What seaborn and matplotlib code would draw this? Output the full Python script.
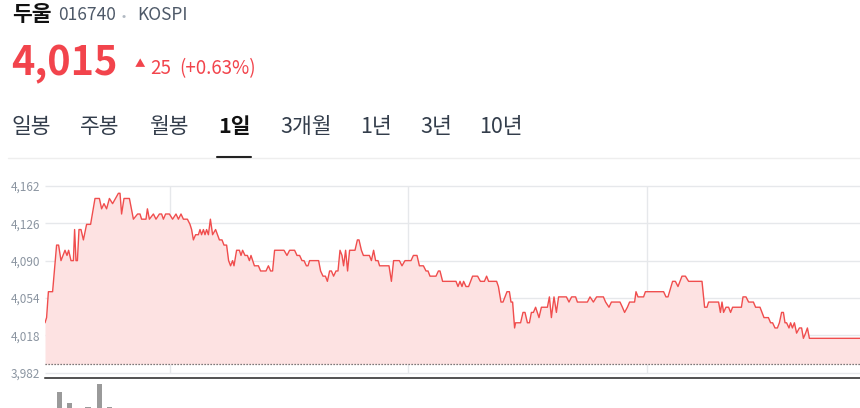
import matplotlib
matplotlib.use('Agg')
import matplotlib.pyplot as plt
from matplotlib.lines import Line2D
import seaborn as sns
import pandas as pd

# 분 단위 (09:00 기준 근사) / 체결가
minutes = [
    0, 0.8, 1.7, 3.8, 5.8, 6.8, 8, 10, 11, 11.8,
    13, 14.2, 14.8, 15.5, 16.2, 17, 18, 19.2, 20.8, 22.8,
    25, 27.2, 28.3, 29.5, 30.8, 32.2, 33.8, 36.7, 37.5, 38.3,
    39.5, 42.2, 44.2, 46.3, 47.5, 48.3, 50.5, 51.2, 52.2, 54.2,
    55.5, 57.2, 58.3, 59.2, 60.3, 62.2, 63.8, 65.5, 66.7, 68,
    69.2, 71.2, 72.5, 73.3, 74.2, 75.3, 76.7, 77.5, 78.3, 79.2,
    80, 80.8, 81.7, 82.7, 83.8, 85.3, 87.2, 88.5, 89.5, 90.8,
    91.8, 92.8, 93.8, 94.5, 95.8, 97.2, 98, 98.8, 100, 101.2,
    102.2, 103, 104.7, 106.7, 107.8, 110.5, 111.7, 112.8, 113.8, 114.8,
    119.5, 121, 122.3, 124.8, 126, 127.3, 128.5, 129.5, 130.7, 131.5,
    132.3, 136.8, 137.8, 139, 140.2, 141.2, 142.3, 143.2, 144.3, 145.5,
    146.5, 147.5, 148.5, 149.3, 150.3, 151.3, 152.3, 155, 156.2, 157,
    158.2, 159.2, 162.2, 163.2, 164.3, 165.3, 166.5, 167.3, 172, 173.2,
    174.3, 177.2, 178.5, 180, 183, 184.2, 186, 187.2, 189.2, 190.5,
    191.5, 192.5, 195.5, 196.7, 197.5, 198.8, 205.5, 206.5, 207.5, 208.5,
    209.3, 210.5, 211.8, 213.8, 216.3, 217.7, 219.7, 220.8, 221.8, 225.8,
    226.7, 228, 229, 231, 232.2, 233, 233.8, 234.8, 235.3, 237.8,
    239, 240, 241.2, 242.2, 243.2, 244.2, 245.3, 247, 248.2, 251.2,
    252.2, 253.2, 254.5, 255.7, 256.8, 260.7, 262, 263.3, 265.3, 266.2,
    271.2, 272.5, 274.2, 275.8, 279.2, 280.3, 282, 283.2, 287.5, 288.7,
    289.8, 291.2, 292.3, 294.8, 295.5, 296.5, 299.3, 300.2, 309.3, 310.5,
    311.5, 313.8, 315.2, 316.5, 318.5, 320.2, 321.8, 328.5, 329.8, 331,
    331.8, 336.8, 337.7, 338.5, 339.3, 340.5, 341.8, 342.8, 343.8, 348.2,
    349, 350.5, 351.8, 354.2, 355.3, 357.5, 359.5, 361.7, 362.8, 363.8,
    365, 366.2, 367.2, 368.3, 369.2, 370, 370.8, 372, 372.8, 373.7,
    374.7, 375.8, 377.2, 378.3, 379.2, 380.3, 381.2, 382.2, 407.5,
]
prices = [
    4030, 4035, 4060, 4060, 4105, 4105, 4090, 4100, 4095, 4100,
    4090, 4090, 4120, 4090, 4090, 4120, 4120, 4110, 4125, 4125,
    4150, 4150, 4140, 4145, 4140, 4150, 4145, 4155, 4155, 4135,
    4150, 4150, 4130, 4135, 4135, 4130, 4130, 4140, 4130, 4135,
    4130, 4135, 4135, 4130, 4135, 4135, 4130, 4135, 4130, 4135,
    4130, 4130, 4125, 4120, 4110, 4115, 4115, 4120, 4115, 4120,
    4115, 4120, 4115, 4130, 4115, 4120, 4110, 4110, 4105, 4105,
    4090, 4085, 4090, 4085, 4100, 4100, 4095, 4100, 4095, 4095,
    4090, 4095, 4085, 4085, 4080, 4080, 4085, 4080, 4080, 4100,
    4100, 4095, 4100, 4100, 4095, 4095, 4090, 4090, 4085, 4085,
    4090, 4090, 4080, 4075, 4075, 4070, 4080, 4080, 4075, 4080,
    4080, 4100, 4095, 4085, 4100, 4080, 4100, 4100, 4110, 4110,
    4100, 4095, 4095, 4090, 4100, 4090, 4090, 4085, 4085, 4070,
    4090, 4090, 4085, 4090, 4090, 4095, 4095, 4085, 4085, 4080,
    4080, 4075, 4075, 4080, 4080, 4070, 4070, 4065, 4070, 4065,
    4070, 4065, 4065, 4075, 4075, 4070, 4070, 4075, 4070, 4070,
    4065, 4050, 4050, 4060, 4060, 4050, 4050, 4025, 4030, 4030,
    4040, 4040, 4030, 4030, 4040, 4040, 4045, 4035, 4045, 4045,
    4055, 4035, 4055, 4040, 4055, 4055, 4050, 4055, 4055, 4050,
    4050, 4055, 4050, 4055, 4055, 4050, 4045, 4050, 4050, 4045,
    4040, 4045, 4050, 4050, 4060, 4055, 4055, 4060, 4060, 4055,
    4055, 4070, 4070, 4065, 4075, 4075, 4070, 4070, 4045, 4045,
    4050, 4050, 4040, 4050, 4040, 4045, 4045, 4040, 4045, 4045,
    4055, 4055, 4050, 4050, 4045, 4045, 4035, 4035, 4030, 4030,
    4025, 4025, 4030, 4040, 4040, 4030, 4030, 4025, 4030, 4025,
    4030, 4020, 4025, 4025, 4015, 4020, 4025, 4015, 4015,
]

prev_close = 3990
y_ticks = [3982, 4018, 4054, 4090, 4126, 4162]
time_marks = [62.5, 181.5, 301]

# 거래량 (화면에 보이는 윗부분만)
vol_minutes = [7.2, 12.2, 21.5, 27.3, 32.3]
vol_values = [89, 78, 74, 97, 74]

tabs = ['일봉', '주봉', '월봉', '1일', '3개월', '1년', '3년', '10년']
tab_x = [11, 80, 150, 218, 280, 360, 420, 479]
active_tab = '1일'

RED = '#f2444c'
LINE_RED = '#f04d4d'
PINK = '#fde2e2'
GRID = '#e6e8eb'
TICK = '#8b95a1'

sns.set_theme(style='white')
plt.rcParams['font.family'] = ['Noto Sans CJK KR', 'DejaVu Sans']

W, H = 860, 408
fig = plt.figure(figsize=(W / 100, H / 100), dpi=100)


def fx(px):
    return px / W


def fy(py):
    return 1 - py / H


df = pd.DataFrame({'minute': minutes, 'price': prices})

ax = fig.add_axes([fx(45), fy(378), 815 / W, (378 - 185) / H])
ax.set_xlim(0, 407.5)
ax.set_ylim(3976.7, 4163)

ax.hlines(y_ticks, 0, 407.5, color=GRID, lw=1, zorder=0)
ax.vlines(time_marks, 3982, 4162, color=GRID, lw=1, zorder=0)

ax.fill_between(df.minute, df.price, prev_close, color=PINK, lw=0, zorder=1)
sns.lineplot(data=df, x='minute', y='price', ax=ax, color=LINE_RED,
             lw=1, estimator=None, sort=False, zorder=3)

ax.axhline(prev_close, color='#555555', lw=0.9, ls=(0, (1, 1.4)), zorder=4)

ax.set_yticks(y_ticks)
ax.set_yticklabels([f'{v:,}' for v in y_ticks])
ax.set_xticks([])
ax.tick_params(axis='y', length=0, pad=3.5, labelsize=8.5, labelcolor=TICK)
ax.set_xlabel('')
ax.set_ylabel('')
for side in ['top', 'right', 'left']:
    ax.spines[side].set_visible(False)
ax.spines['bottom'].set_color('#222222')
ax.spines['bottom'].set_linewidth(1.1)
ax.patch.set_alpha(0)

# 거래량 막대 (아래쪽 잘림)
vax = fig.add_axes([fx(45), fy(481), 815 / W, 100 / H])
vax.bar(vol_minutes, vol_values, width=2.6, color='#9a9a9a', lw=0)
vax.set_xlim(0, 407.5)
vax.set_ylim(0, 100)
vax.axis('off')

# 헤더
fig.text(fx(12), fy(21), '두울', fontsize=15.5, fontweight='bold', color='#111111')
fig.text(fx(58), fy(20), '016740', fontsize=12.5, color='#4e5968')
fig.text(fx(121), fy(20), '•', fontsize=9, color='#b0b8c1')
fig.text(fx(137), fy(20), 'KOSPI', fontsize=12.5, color='#4e5968')

fig.text(fx(11), fy(75), '4,015', fontsize=28.5, fontweight='bold', color=RED)
fig.text(fx(135), fy(67), '▲', fontsize=7.5, color=RED)
fig.text(fx(150), fy(74), '25', fontsize=13.5, color=RED)
fig.text(fx(179), fy(74), '(+0.63%)', fontsize=13.5, color=RED)

for label, x in zip(tabs, tab_x):
    active = label == active_tab
    fig.text(fx(x), fy(133), label, fontsize=15.5,
             fontweight='bold' if active else 'normal',
             color='#111111' if active else '#333d4b')

fig.add_artist(Line2D([fx(8), fx(860)], [fy(158), fy(158)],
                      transform=fig.transFigure, color='#eeeeee', lw=1))
fig.add_artist(Line2D([fx(217), fx(251)], [fy(157.5), fy(157.5)],
                      transform=fig.transFigure, color='#222222', lw=1.5))

fig.savefig('out.png', dpi=100)
